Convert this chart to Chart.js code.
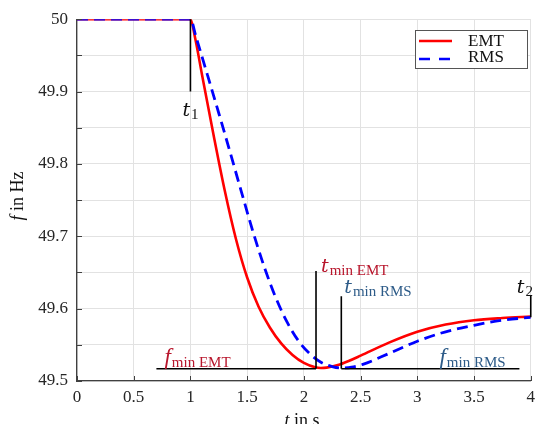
<!DOCTYPE html>
<html>
<head>
<meta charset="utf-8">
<script src="https://cdn.jsdelivr.net/npm/chart.js@4.4.1/dist/chart.umd.min.js"></script>
<style>
  html, body { margin: 0; padding: 0; background: #fff; }
  #wrap { width: 541px; height: 424px; }
</style>
</head>
<body>
<div id="wrap"><canvas id="chart-freq"></canvas></div>
<script>
// frequency response, EMT vs RMS simulation
const tEMT = [0, 1, 1.04, 1.1, 1.2, 1.3, 1.4, 1.5, 1.6, 1.7, 1.8, 1.9, 2.0, 2.1, 2.15, 2.2, 2.3, 2.4, 2.5, 2.75, 3.0, 3.25, 3.5, 3.75, 4.0];
const fEMT = [50, 50, 49.975, 49.925, 49.843, 49.765, 49.697, 49.643, 49.603, 49.574, 49.552, 49.536, 49.525, 49.519, 49.518, 49.5185, 49.522, 49.528, 49.535, 49.553, 49.568, 49.578, 49.584, 49.587, 49.589];

const tRMS = [0, 1, 1.05, 1.15, 1.25, 1.35, 1.45, 1.55, 1.65, 1.75, 1.85, 1.95, 2.05, 2.15, 2.25, 2.33, 2.42, 2.52, 2.75, 3.0, 3.25, 3.5, 3.75, 4.0];
const fRMS = [50, 50, 49.975, 49.923, 49.870, 49.816, 49.761, 49.707, 49.658, 49.616, 49.582, 49.556, 49.538, 49.526, 49.520, 49.518, 49.519, 49.523, 49.538, 49.555, 49.568, 49.577, 49.584, 49.588];

// vertical markers t1, tmin EMT, tmin RMS, t2
const markT = [1, 2.107, 2.33, 4];
const markTop = [50, 49.652, 49.617, 49.618];
const markBottom = [49.9, 49.517, 49.517, 49.588];

// horizontal fmin markers
const fMinLevel = 49.517;
const fMinEMTSpan = [0.70, 2.107];
const fMinRMSSpan = [2.33, 3.9];

const xTicks = [0, 0.5, 1, 1.5, 2, 2.5, 3, 3.5, 4];
const yLabels = [49.5, 49.6, 49.7, 49.8, 49.9, 50];

const toPoints = (xs, ys) => xs.map((x, i) => ({ x, y: ys[i] }));

const blackLine = (pts) => ({
    data: pts,
    borderColor: "#000000",
    borderWidth: 1.6,
    pointRadius: 0,
    tension: 0,
    clip: false,
    order: 0,
});

const markerSets = markT.map((t, i) => blackLine([{ x: t, y: markTop[i] }, { x: t, y: markBottom[i] }]));
const fMinSets = [fMinEMTSpan, fMinRMSSpan].map((span) => blackLine(span.map((x) => ({ x, y: fMinLevel }))));

const SERIF = "'Liberation Serif', 'Times New Roman', serif";
const RED_TXT = "#b8162c";
const BLUE_TXT = "#2d5b88";

function drawSub(ctx, x, y, main, sub, color, mainFont, subSize) {
    ctx.fillStyle = color;
    ctx.textAlign = "left";
    ctx.textBaseline = "alphabetic";
    ctx.font = mainFont;
    ctx.fillText(main, x, y);
    const w = ctx.measureText(main).width;
    ctx.font = subSize + "px " + SERIF;
    ctx.fillText(sub, x + w + 1, y + 3);
}

const overlay = {
    id: "overlay",
    afterDraw(chart) {
        const { ctx, scales: { x, y }, chartArea } = chart;
        ctx.save();

        // inward tick marks
        ctx.strokeStyle = "#404040";
        ctx.lineWidth = 1;
        ctx.beginPath();
        for (let v = 49.5; v <= 50.0001; v += 0.05) {
            const py = Math.round(y.getPixelForValue(v)) + 0.5;
            ctx.moveTo(chartArea.left, py);
            ctx.lineTo(chartArea.left + 5, py);
        }
        xTicks.forEach((v) => {
            const px = Math.round(x.getPixelForValue(v)) + 0.5;
            ctx.moveTo(px, chartArea.bottom);
            ctx.lineTo(px, chartArea.bottom - 5);
        });
        ctx.stroke();

        // marker labels
        const tFont = "italic 19px 'DejaVu Serif', serif";
        const fFont = "italic 23px " + SERIF;
        const px = (v) => x.getPixelForValue(v);
        const py = (v) => y.getPixelForValue(v);
        drawSub(ctx, px(markT[0]) - 8, py(markBottom[0]) + 24, "t", "1", "#111", tFont, 15);
        drawSub(ctx, px(markT[1]) + 5, py(markTop[1]) + 1, "t", "min EMT", RED_TXT, tFont, 15);
        drawSub(ctx, px(markT[2]) + 3, py(markTop[2]) - 3, "t", "min RMS", BLUE_TXT, tFont, 15);
        drawSub(ctx, px(markT[3]) - 14, py(markTop[3]) - 3, "t", "2", "#111", tFont, 15);
        drawSub(ctx, px(fMinEMTSpan[0]) + 8, py(fMinLevel) - 5, "f", "min EMT", RED_TXT, fFont, 15);
        drawSub(ctx, px(fMinRMSSpan[1]) - 80, py(fMinLevel) - 5, "f", "min RMS", BLUE_TXT, fFont, 15);

        // legend box
        ctx.fillStyle = "#ffffff";
        ctx.fillRect(415, 30, 112, 38);
        ctx.strokeStyle = "#555";
        ctx.lineWidth = 1;
        ctx.strokeRect(415.5, 30.5, 112, 38);
        ctx.lineWidth = 2.6;
        ctx.strokeStyle = "#ff0000";
        ctx.beginPath();
        ctx.moveTo(419, 41);
        ctx.lineTo(452, 41);
        ctx.stroke();
        ctx.strokeStyle = "#0000ff";
        ctx.setLineDash([11, 9]);
        ctx.beginPath();
        ctx.moveTo(419, 59);
        ctx.lineTo(452, 59);
        ctx.stroke();
        ctx.setLineDash([]);
        ctx.fillStyle = "#111";
        ctx.font = "17px " + SERIF;
        ctx.textBaseline = "middle";
        ctx.fillText("EMT", 468, 42);
        ctx.fillText("RMS", 468, 58);

        // axis titles
        ctx.textBaseline = "alphabetic";
        ctx.fillStyle = "#111";
        ctx.save();
        ctx.translate(23, 196);
        ctx.rotate(-Math.PI / 2);
        ctx.textAlign = "left";
        ctx.font = "italic 18px " + SERIF;
        const fw = ctx.measureText("f").width;
        ctx.font = "18px " + SERIF;
        const rw = ctx.measureText(" in Hz").width;
        const start = -(fw + rw) / 2;
        ctx.font = "italic 18px " + SERIF;
        ctx.fillText("f", start, 0);
        ctx.font = "18px " + SERIF;
        ctx.fillText(" in Hz", start + fw, 0);
        ctx.restore();

        ctx.font = "italic 18px " + SERIF;
        const tw = ctx.measureText("t").width;
        ctx.font = "18px " + SERIF;
        const sw = ctx.measureText(" in s").width;
        const sx = 302 - (tw + sw) / 2;
        ctx.font = "italic 18px " + SERIF;
        ctx.fillText("t", sx, 426);
        ctx.font = "18px " + SERIF;
        ctx.fillText(" in s", sx + tw, 426);

        ctx.restore();
    },
};

new Chart(document.getElementById("chart-freq").getContext("2d"), {
    type: "line",
    data: {
        datasets: [
            ...markerSets,
            ...fMinSets,
            {
                label: "EMT",
                data: toPoints(tEMT, fEMT),
                borderColor: "#ff0000",
                borderWidth: 2.6,
                pointRadius: 0,
                cubicInterpolationMode: "monotone",
                order: 2,
            },
            {
                label: "RMS",
                data: toPoints(tRMS, fRMS),
                borderColor: "#0000ff",
                borderWidth: 2.8,
                borderDash: [11, 6],
                pointRadius: 0,
                cubicInterpolationMode: "monotone",
                order: 1,
            },
        ],
    },
    options: {
        responsive: true,
        maintainAspectRatio: false,
        animation: false,
        layout: { padding: { top: 18, right: 4, left: 0, bottom: 0 } },
        plugins: {
            legend: { display: false },
            tooltip: { enabled: false },
        },
        scales: {
            x: {
                type: "linear",
                min: 0,
                max: 4,
                afterBuildTicks: (scale) => {
                    scale.ticks = xTicks.map((v) => ({ value: v }));
                },
                ticks: {
                    font: { family: SERIF, size: 17 },
                    color: "#262626",
                    padding: 6,
                    maxRotation: 0,
                    callback: (v) => String(v),
                },
                grid: { color: "#e2e2e2", drawTicks: false, lineWidth: 1 },
                border: { color: "#404040", width: 1.3 },
                afterFit: (scale) => { scale.height = 43; },
            },
            y: {
                min: 49.5,
                max: 50,
                ticks: {
                    stepSize: 0.05,
                    font: { family: SERIF, size: 17 },
                    color: "#262626",
                    padding: 9,
                    callback: (v) => {
                        const hit = yLabels.find((l) => Math.abs(l - v) < 1e-6);
                        return hit === undefined ? "" : String(hit);
                    },
                },
                grid: { color: "#e2e2e2", drawTicks: false, lineWidth: 1 },
                border: { color: "#404040", width: 1.3 },
                afterFit: (scale) => { scale.width = 77; },
            },
        },
    },
    plugins: [overlay],
});
</script>
</body>
</html>
